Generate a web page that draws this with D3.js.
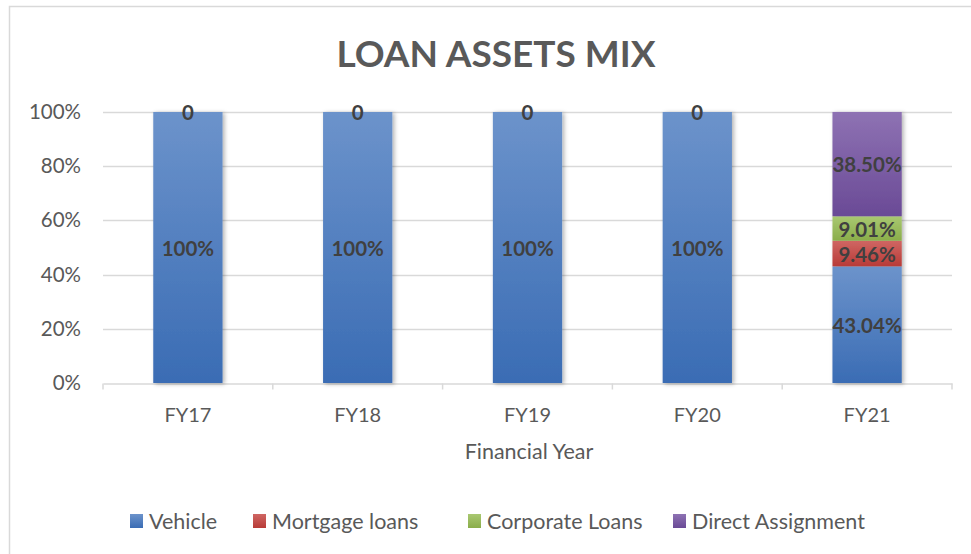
<html>
<meta charset="utf-8">
<style>
  body { margin: 0; background: #fff; }
  text { font-family: Lato, "Open Sans", sans-serif; }
</style>
<body>
<script src="https://d3js.org/d3.v7.min.js"></script>
<script>
// data
var years = ["FY17", "FY18", "FY19", "FY20", "FY21"];
var seriesNames = ["Vehicle", "Mortgage loans", "Corporate Loans", "Direct Assignment"];
var vehicle = [1, 1, 1, 1, 0.4304];
var mortgage = [0, 0, 0, 0, 0.0946];
var corporate = [0, 0, 0, 0, 0.0901];
var direct = [0, 0, 0, 0, 0.3850];
var yTicks = [0, 0.2, 0.4, 0.6, 0.8, 1];

// colours (top / bottom of gradient)
var colours = [
  ["#6C93CB", "#3A6CB4"],
  ["#CF6663", "#B83B37"],
  ["#A9C871", "#8AAD4A"],
  ["#8E72B3", "#6A4A96"]
];

var W = 971, H = 554;
var plot = {left: 103, right: 952, top: 112, bottom: 383};

var rows = years.map(function(y, i) {
  return {year: y, "Vehicle": vehicle[i], "Mortgage loans": mortgage[i],
          "Corporate Loans": corporate[i], "Direct Assignment": direct[i]};
});
var stacked = d3.stack().keys(seriesNames)(rows);

var x = d3.scaleBand().domain(years).range([plot.left, plot.right])
  .paddingInner(0.592).paddingOuter(0.296);
var y = d3.scaleLinear().domain([0, 1]).range([plot.bottom, plot.top]);

var svg = d3.select("body").append("svg")
  .attr("width", W).attr("height", H);

var defs = svg.append("defs");
colours.forEach(function(c, i) {
  var g = defs.append("linearGradient").attr("id", "grad" + i)
    .attr("x1", 0).attr("y1", 0).attr("x2", 0).attr("y2", 1);
  g.append("stop").attr("offset", "0%").attr("stop-color", c[0]);
  g.append("stop").attr("offset", "100%").attr("stop-color", c[1]);
});
var f = defs.append("filter").attr("id", "shadow")
  .attr("x", "-20%").attr("y", "-10%").attr("width", "150%").attr("height", "130%");
f.append("feDropShadow").attr("dx", 2).attr("dy", 1).attr("stdDeviation", 2)
  .attr("flood-color", "#000").attr("flood-opacity", 0.3);

// chart frame (runs off the right and bottom edges)
svg.append("rect").attr("x", 9.5).attr("y", 6.5)
  .attr("width", W + 20).attr("height", H + 20)
  .attr("fill", "#fff").attr("stroke", "#d9d9d9").attr("stroke-width", 1.5);

// title
svg.append("text").attr("x", 496).attr("y", 67)
  .attr("text-anchor", "middle")
  .style("font-size", "37px").style("font-weight", "bold").style("fill", "#595959")
  .text("LOAN ASSETS MIX");

// gridlines
svg.append("g").selectAll("line").data(yTicks.slice(1)).enter().append("line")
  .attr("x1", plot.left).attr("x2", plot.right)
  .attr("y1", function(d) { return Math.round(y(d)) + 0.5; })
  .attr("y2", function(d) { return Math.round(y(d)) + 0.5; })
  .attr("stroke", "#d9d9d9").attr("stroke-width", 1.5);

// y axis labels
var yAxis = svg.append("g").attr("transform", "translate(" + plot.left + ",0)")
  .call(d3.axisLeft(y).tickValues(yTicks).tickFormat(d3.format(".0%")).tickSize(0).tickPadding(22));
yAxis.select(".domain").remove();
yAxis.selectAll("text").style("font-size", "20.5px").style("fill", "#595959")
  .style("font-family", "Lato, sans-serif");

// x axis
var xAxis = svg.append("g").attr("transform", "translate(0," + (plot.bottom + 0.5) + ")")
  .call(d3.axisBottom(x).tickSize(0).tickPadding(24));
xAxis.select(".domain").attr("stroke", "#d9d9d9").attr("stroke-width", 1.5);
xAxis.selectAll("text").style("font-size", "20px").style("fill", "#595959")
  .style("font-family", "Lato, sans-serif");
var bounds = years.map(function(d) { return x(d) - x.step() * x.paddingOuter(); });
bounds.push(plot.right);
xAxis.selectAll(".bound").data(bounds).enter().append("line")
  .attr("x1", function(d) { return d; }).attr("x2", function(d) { return d; })
  .attr("y1", 0).attr("y2", 6)
  .attr("stroke", "#d9d9d9").attr("stroke-width", 1.5);

svg.append("text").attr("x", 529).attr("y", 459)
  .attr("text-anchor", "middle")
  .style("font-size", "21.5px").style("fill", "#595959")
  .text("Financial Year");

// bars
var bars = svg.append("g").attr("filter", "url(#shadow)");
stacked.forEach(function(s, i) {
  bars.selectAll(".s" + i).data(s.filter(function(d) { return d[1] > d[0]; }))
    .enter().append("rect")
    .attr("x", function(d) { return x(d.data.year); })
    .attr("width", x.bandwidth())
    .attr("y", function(d) { return y(d[1]); })
    .attr("height", function(d) { return y(d[0]) - y(d[1]); })
    .attr("fill", "url(#grad" + i + ")");
});

// data labels
var labels = svg.append("g");
stacked.forEach(function(s, i) {
  labels.selectAll(".l" + i).data(s.filter(function(d) {
      // zero values only labelled once (they sit on top of each other)
      return d[1] > d[0] || i == seriesNames.length - 1;
    }))
    .enter().append("text")
    .attr("x", function(d) { return x(d.data.year) + x.bandwidth() / 2; })
    .attr("y", function(d) { return y((d[0] + d[1]) / 2); })
    .attr("dy", "0.4em")
    .attr("text-anchor", "middle")
    .style("font-size", "20.5px").style("font-weight", "bold").style("fill", "#404040")
    .text(function(d) {
      var v = d[1] - d[0];
      if (v == 0) return "0";
      if (v == 1) return "100%";
      return d3.format(".2%")(v);
    });
});

// legend
var legendX = [130, 253, 468, 673];
var legend = svg.append("g");
seriesNames.forEach(function(n, i) {
  legend.append("rect").attr("x", legendX[i]).attr("y", 514)
    .attr("width", 13).attr("height", 14).attr("fill", "url(#grad" + i + ")");
  legend.append("text").attr("x", legendX[i] + 19).attr("y", 529)
    .style("font-size", "21.5px").style("fill", "#595959")
    .text(n);
});
</script>
</body>
</html>
